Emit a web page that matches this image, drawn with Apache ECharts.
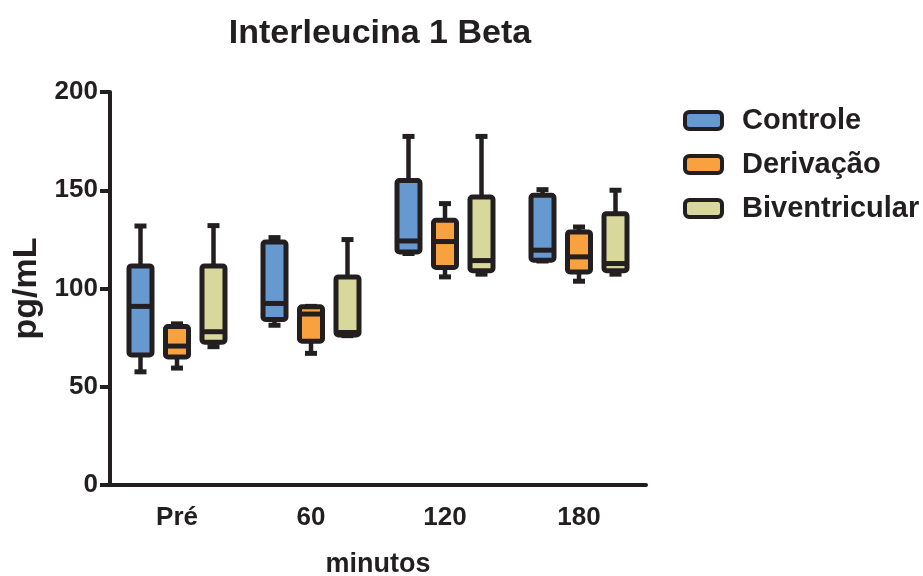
<!DOCTYPE html>
<html>
<head>
<meta charset="utf-8">
<script src="https://cdn.jsdelivr.net/npm/echarts@6/dist/echarts.min.js"></script>
<style>html,body{margin:0;padding:0;background:#fff;}#c{width:923px;height:576px;}</style>
</head>
<body>
<div id="c"></div>
<script>
const categories = ['Pré', '60', '120', '180'];
const seriesNames = ['Controle', 'Derivação', 'Biventricular'];
const yTicks = [0, 50, 100, 150, 200];
// each entry: [min, q1, median, q3, max]
const controle = [
  [57.6, 66.2, 90.9, 111.5, 131.8],
  [81.3, 84.2, 92.4, 123.7, 125.9],
  [117.8, 118.6, 124.2, 155.0, 177.4],
  [114.0, 114.4, 119.5, 147.4, 150.3]
];
const derivacao = [
  [59.5, 65.2, 70.7, 80.6, 82.0],
  [67.0, 73.2, 87.0, 90.7, 90.9],
  [105.9, 110.7, 123.9, 134.7, 143.2],
  [103.7, 108.4, 116.1, 128.8, 131.3]
];
const biventricular = [
  [70.4, 72.7, 78.0, 111.5, 132.0],
  [76.0, 76.3, 77.6, 105.9, 124.9],
  [107.3, 109.0, 114.2, 146.6, 177.4],
  [107.3, 109.0, 112.7, 138.1, 150.0]
];

const dark = '#231f20';
const colors = ['#6799d1', '#f8a13f', '#d8d89c'];
const offsets = [-36.5, 0, 36.5];
const font = "'Liberation Sans', Arial, sans-serif";

function makeRender(offset, color) {
  return function (params, api) {
    const cat = api.value(0);
    const x = api.coord([cat, 0])[0] + offset;
    const yMin = api.coord([cat, api.value(1)])[1];
    const yQ1 = api.coord([cat, api.value(2)])[1];
    const yMed = api.coord([cat, api.value(3)])[1];
    const yQ3 = api.coord([cat, api.value(4)])[1];
    const yMax = api.coord([cat, api.value(5)])[1];
    const hw = 11.5;
    return {
      type: 'group',
      children: [
        { type: 'line', shape: { x1: x, y1: yMax, x2: x, y2: yQ3 }, style: { stroke: dark, lineWidth: 4.5 } },
        { type: 'line', shape: { x1: x, y1: yQ1, x2: x, y2: yMin }, style: { stroke: dark, lineWidth: 4.5 } },
        { type: 'rect', shape: { x: x - 6, y: yMax - 2.5, width: 12, height: 5 }, style: { fill: dark } },
        { type: 'rect', shape: { x: x - 6, y: yMin - 2.5, width: 12, height: 5 }, style: { fill: dark } },
        { type: 'rect', shape: { x: x - hw, y: yQ3, width: hw * 2, height: yQ1 - yQ3, r: 2.5 }, style: { fill: color, stroke: dark, lineWidth: 5 } },
        { type: 'line', shape: { x1: x - hw, y1: yMed, x2: x + hw, y2: yMed }, style: { stroke: dark, lineWidth: 5 } }
      ]
    };
  };
}

function toData(arr) {
  return arr.map((d, i) => [i].concat(d));
}

const allData = [controle, derivacao, biventricular];

const series = seriesNames.map((name, si) => ({
  name: name,
  type: 'custom',
  renderItem: makeRender(offsets[si], colors[si]),
  itemStyle: { color: colors[si], borderColor: dark, borderWidth: 4 },
  encode: { x: 0, y: [1, 2, 3, 4, 5] },
  data: toData(allData[si]),
  silent: true
}));

const chart = echarts.init(document.getElementById('c'), null, { renderer: 'canvas' });
chart.setOption({
  animation: false,
  backgroundColor: '#fff',
  title: {
    text: 'Interleucina 1 Beta',
    left: 375,
    top: 12,
    textAlign: 'center',
    textStyle: { fontFamily: font, fontWeight: 'bold', fontSize: 34, color: dark }
  },
  legend: {
    orient: 'vertical',
    left: 678,
    top: 101,
    itemWidth: 37,
    itemHeight: 17,
    itemGap: 15,
    icon: 'roundRect',
    data: seriesNames.map((n, i) => ({ name: n, itemStyle: { color: colors[i], borderColor: dark, borderWidth: 4 } })),
    textStyle: { fontFamily: font, fontWeight: 'bold', fontSize: 29, color: dark, lineHeight: 29, padding: [0, 0, 0, 15] }
  },
  grid: { left: 110, right: 277, top: 92, bottom: 91, containLabel: false, outerBoundsMode: 'none' },
  xAxis: {
    type: 'category',
    data: categories,
    boundaryGap: true,
    name: 'minutos',
    nameLocation: 'middle',
    nameGap: 66,
    nameTextStyle: { fontFamily: font, fontWeight: 'bold', fontSize: 27, color: dark },
    axisLine: { lineStyle: { color: dark, width: 4 } },
    axisTick: { alignWithLabel: true, length: 11, lineStyle: { color: dark, width: 4 } },
    axisLabel: { fontFamily: font, fontWeight: 'bold', fontSize: 26, color: dark, margin: 20 },
    splitLine: { show: false }
  },
  yAxis: {
    type: 'value',
    min: yTicks[0],
    max: yTicks[yTicks.length - 1],
    interval: 50,
    name: 'pg/mL',
    nameLocation: 'middle',
    nameGap: 66,
    nameRotate: 90,
    nameTextStyle: { fontFamily: font, fontWeight: 'bold', fontSize: 34, color: dark },
    axisLine: { show: true, lineStyle: { color: dark, width: 4 } },
    axisTick: { show: true, length: 10, lineStyle: { color: dark, width: 4 } },
    axisLabel: { fontFamily: font, fontWeight: 'bold', fontSize: 26, color: dark, margin: 12 },
    splitLine: { show: false }
  },
  series: series
});
</script>
</body>
</html>
